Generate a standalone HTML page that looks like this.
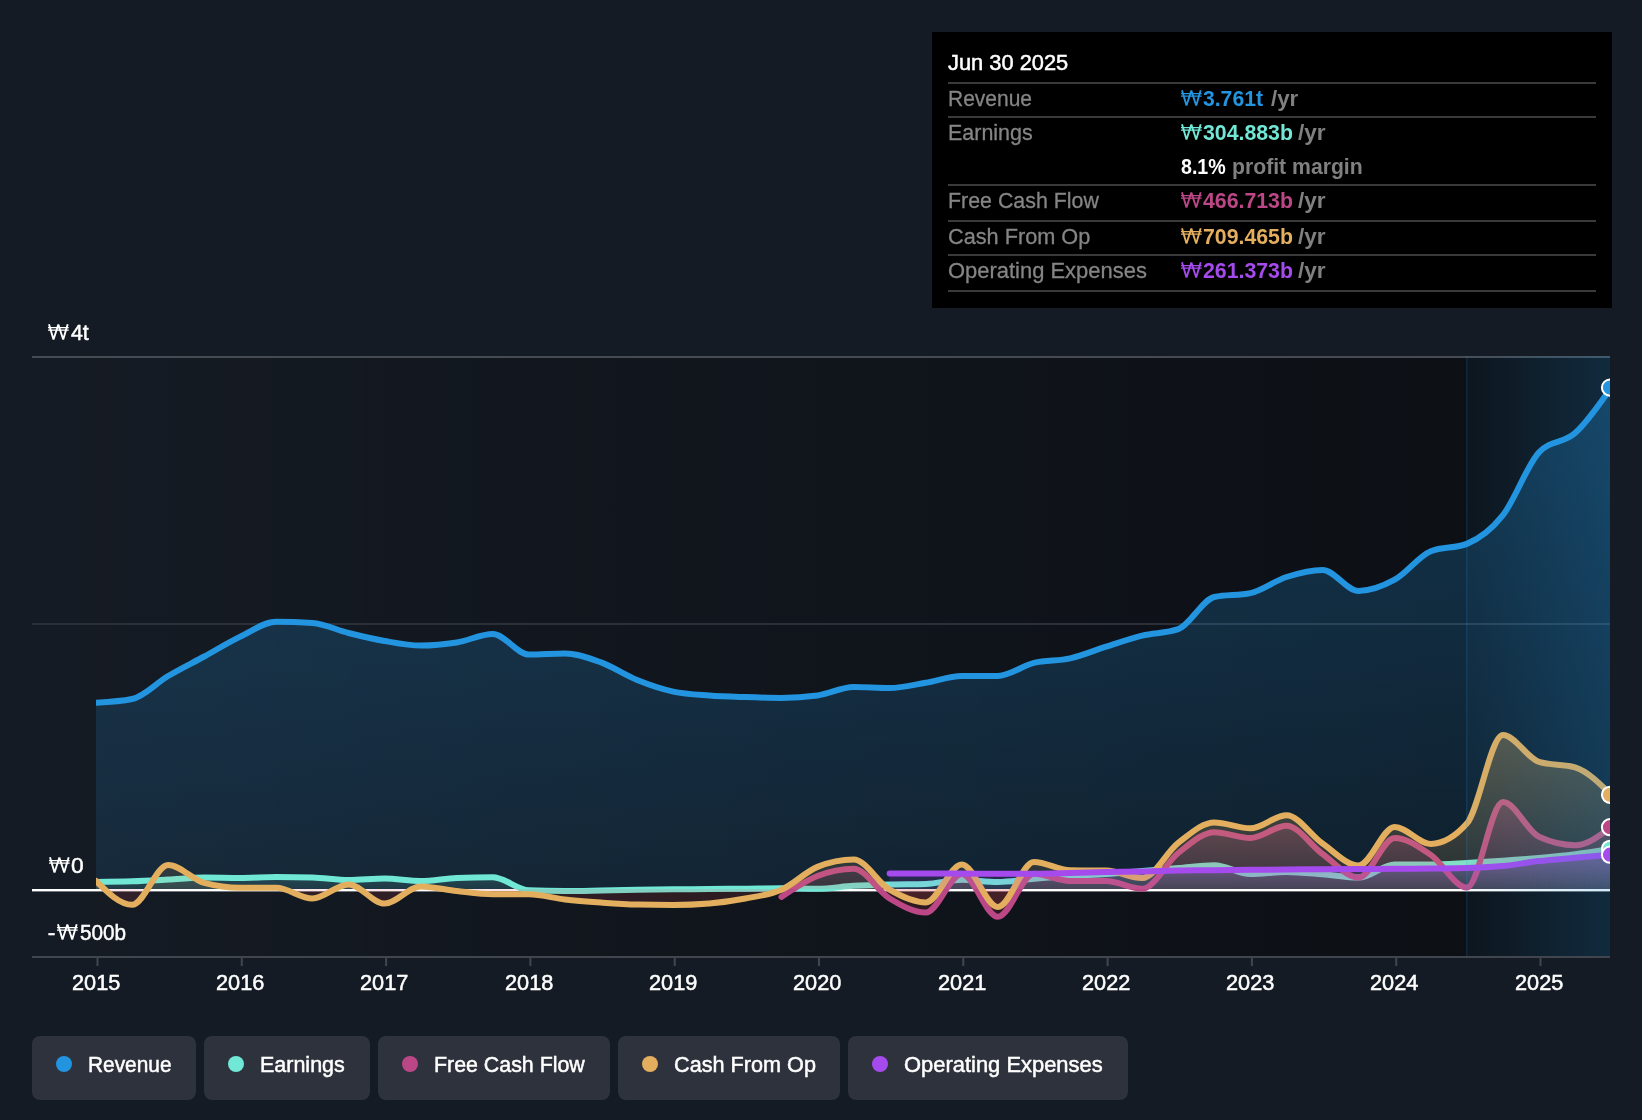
<!DOCTYPE html>
<html lang="en">
<head>
<meta charset="utf-8">
<title>Earnings and Revenue History</title>
<style>
*{box-sizing:border-box;margin:0;padding:0}
html,body{width:1642px;height:1120px;overflow:hidden;background:#151b24}
body{position:relative;font-family:"Liberation Sans",sans-serif;color:#fff}
#chart{position:absolute;left:0;top:0}
#tip{position:absolute;left:932px;top:32px;width:680px;height:276px;background:#000}
#tip .ln{position:absolute;left:16px;width:648px;height:2px;background:#3a3a3a}
.pill{position:absolute;top:1036px;height:64px;background:#2d323c;border-radius:8px}
.pill .dot{position:absolute;left:24px;top:20px;width:16px;height:16px;border-radius:50%}
#txt{position:absolute;left:0;top:0;width:1642px;height:1120px;will-change:transform}
#txt span{position:absolute;white-space:nowrap;line-height:1;font-size:22.8px;transform-origin:0 0}
#txt svg{position:absolute;overflow:visible}
.m{color:#fff;-webkit-text-stroke:0.5px}
.l{color:#858585;-webkit-text-stroke:0.3px}
.b{font-weight:bold}
.u{font-weight:bold;color:#808080}
</style>
</head>
<body>
<svg id="chart" width="1642" height="1120" viewBox="0 0 1642 1120">
<defs>
<linearGradient id="bgd" x1="32" y1="0" x2="1466" y2="0" gradientUnits="userSpaceOnUse">
<stop offset="0" stop-color="#000" stop-opacity="0"/>
<stop offset="1" stop-color="#000" stop-opacity="0.42"/>
</linearGradient>
<linearGradient id="hl" x1="1466" y1="0" x2="1610" y2="0" gradientUnits="userSpaceOnUse">
<stop offset="0" stop-color="#2394df" stop-opacity="0.04"/>
<stop offset="1" stop-color="#2394df" stop-opacity="0.2"/>
</linearGradient>
<clipPath id="cp"><rect x="96" y="340" width="1514" height="617"/></clipPath>
<clipPath id="up"><rect x="96" y="340" width="1514" height="549"/></clipPath>
<clipPath id="dn"><rect x="96" y="889" width="1514" height="68"/></clipPath>
<linearGradient id="grev" x1="0" y1="387" x2="0" y2="889" gradientUnits="userSpaceOnUse">
<stop offset="0" stop-color="#2394df" stop-opacity="0.28"/>
<stop offset="1" stop-color="#2394df" stop-opacity="0.12"/>
</linearGradient>
<linearGradient id="gearn" x1="0" y1="849" x2="0" y2="889" gradientUnits="userSpaceOnUse">
<stop offset="0" stop-color="#71e7d6" stop-opacity="0.3"/>
<stop offset="1" stop-color="#71e7d6" stop-opacity="0.1"/>
</linearGradient>
<linearGradient id="gfcf" x1="0" y1="802" x2="0" y2="889" gradientUnits="userSpaceOnUse">
<stop offset="0" stop-color="#bc4786" stop-opacity="0.34"/>
<stop offset="1" stop-color="#bc4786" stop-opacity="0.1"/>
</linearGradient>
<linearGradient id="gcfo" x1="0" y1="735" x2="0" y2="889" gradientUnits="userSpaceOnUse">
<stop offset="0" stop-color="#e3af5e" stop-opacity="0.34"/>
<stop offset="1" stop-color="#e3af5e" stop-opacity="0.1"/>
</linearGradient>
<linearGradient id="gopex" x1="0" y1="855" x2="0" y2="889" gradientUnits="userSpaceOnUse">
<stop offset="0" stop-color="#a54bee" stop-opacity="0.3"/>
<stop offset="1" stop-color="#a54bee" stop-opacity="0.08"/>
</linearGradient>
</defs>
<!-- plot background -->
<rect x="32" y="358" width="1578" height="598" fill="url(#bgd)"/>
<!-- gridlines -->
<rect x="32" y="356" width="1578" height="2" fill="#464b53"/>
<rect x="32" y="623" width="1578" height="2" fill="#2a2f38"/>
<g clip-path="url(#cp)">
<!-- revenue -->
<path d="M96.00,702.70C108.02,702.08,120.05,701.47,132.07,699.00C144.10,696.53,156.12,683.08,168.15,676.00C180.18,668.92,192.20,663.07,204.23,656.50C216.25,649.93,228.28,642.38,240.30,636.60C252.33,630.82,264.35,621.80,276.38,621.80C288.40,621.80,300.43,622.20,312.45,623.00C324.48,623.80,336.50,630.00,348.53,633.00C360.55,636.00,372.58,638.90,384.60,641.00C396.62,643.10,408.65,645.60,420.68,645.60C432.70,645.60,444.73,644.43,456.75,642.50C468.78,640.57,480.80,634.00,492.83,634.00C504.85,634.00,516.88,654.60,528.90,654.60C540.93,654.60,552.95,653.40,564.98,653.40C577.00,653.40,589.03,657.97,601.05,662.40C613.08,666.83,625.10,675.13,637.12,680.00C649.15,684.87,661.18,689.02,673.20,691.60C685.23,694.18,697.25,694.58,709.28,695.50C721.30,696.42,733.33,696.70,745.35,697.10C757.38,697.50,769.40,697.90,781.43,697.90C793.45,697.90,805.48,697.10,817.50,695.50C829.52,693.90,841.55,687.10,853.58,687.10C865.60,687.10,877.63,688.10,889.65,688.10C901.68,688.10,913.70,684.82,925.73,682.80C937.75,680.78,949.78,676.00,961.80,676.00C973.83,676.00,985.85,676.00,997.88,676.00C1009.90,676.00,1021.93,665.83,1033.95,662.90C1045.98,659.97,1058.00,661.10,1070.03,658.40C1082.05,655.70,1094.08,650.50,1106.10,646.70C1118.13,642.90,1130.15,638.52,1142.18,635.60C1154.20,632.68,1166.23,633.47,1178.25,629.20C1190.28,624.93,1202.30,599.60,1214.33,597.00C1226.35,594.40,1238.38,595.70,1250.40,593.10C1262.43,590.50,1274.45,580.87,1286.48,577.00C1298.50,573.13,1310.53,569.90,1322.55,569.90C1334.58,569.90,1346.60,590.90,1358.62,590.90C1370.65,590.90,1382.67,586.32,1394.70,579.70C1406.73,573.08,1418.75,556.07,1430.78,551.20C1442.80,546.33,1454.83,548.77,1466.85,543.90C1478.88,539.03,1490.90,530.45,1502.93,515.20C1514.95,499.95,1526.98,465.27,1539.00,452.40C1551.03,439.53,1563.05,443.90,1575.08,433.10C1587.10,422.30,1599.12,404.95,1611.15,387.60L1611.15,889.00L96.00,889.00Z" fill="url(#grev)"/>
<path d="M96.00,702.70C108.02,702.08,120.05,701.47,132.07,699.00C144.10,696.53,156.12,683.08,168.15,676.00C180.18,668.92,192.20,663.07,204.23,656.50C216.25,649.93,228.28,642.38,240.30,636.60C252.33,630.82,264.35,621.80,276.38,621.80C288.40,621.80,300.43,622.20,312.45,623.00C324.48,623.80,336.50,630.00,348.53,633.00C360.55,636.00,372.58,638.90,384.60,641.00C396.62,643.10,408.65,645.60,420.68,645.60C432.70,645.60,444.73,644.43,456.75,642.50C468.78,640.57,480.80,634.00,492.83,634.00C504.85,634.00,516.88,654.60,528.90,654.60C540.93,654.60,552.95,653.40,564.98,653.40C577.00,653.40,589.03,657.97,601.05,662.40C613.08,666.83,625.10,675.13,637.12,680.00C649.15,684.87,661.18,689.02,673.20,691.60C685.23,694.18,697.25,694.58,709.28,695.50C721.30,696.42,733.33,696.70,745.35,697.10C757.38,697.50,769.40,697.90,781.43,697.90C793.45,697.90,805.48,697.10,817.50,695.50C829.52,693.90,841.55,687.10,853.58,687.10C865.60,687.10,877.63,688.10,889.65,688.10C901.68,688.10,913.70,684.82,925.73,682.80C937.75,680.78,949.78,676.00,961.80,676.00C973.83,676.00,985.85,676.00,997.88,676.00C1009.90,676.00,1021.93,665.83,1033.95,662.90C1045.98,659.97,1058.00,661.10,1070.03,658.40C1082.05,655.70,1094.08,650.50,1106.10,646.70C1118.13,642.90,1130.15,638.52,1142.18,635.60C1154.20,632.68,1166.23,633.47,1178.25,629.20C1190.28,624.93,1202.30,599.60,1214.33,597.00C1226.35,594.40,1238.38,595.70,1250.40,593.10C1262.43,590.50,1274.45,580.87,1286.48,577.00C1298.50,573.13,1310.53,569.90,1322.55,569.90C1334.58,569.90,1346.60,590.90,1358.62,590.90C1370.65,590.90,1382.67,586.32,1394.70,579.70C1406.73,573.08,1418.75,556.07,1430.78,551.20C1442.80,546.33,1454.83,548.77,1466.85,543.90C1478.88,539.03,1490.90,530.45,1502.93,515.20C1514.95,499.95,1526.98,465.27,1539.00,452.40C1551.03,439.53,1563.05,443.90,1575.08,433.10C1587.10,422.30,1599.12,404.95,1611.15,387.60" fill="none" stroke="#2394df" stroke-width="6" stroke-linejoin="round" stroke-linecap="round"/>
<!-- zero line -->
<rect x="32" y="889" width="1578" height="2.4" fill="#fff"/>
<!-- earnings -->
<path d="M96.00,881.90C108.02,881.79,120.05,881.68,132.07,881.30C144.10,880.92,156.12,880.22,168.15,879.60C180.18,878.98,192.20,877.60,204.23,877.60C216.25,877.60,228.28,878.00,240.30,878.00C252.33,878.00,264.35,877.00,276.38,877.00C288.40,877.00,300.43,877.13,312.45,877.40C324.48,877.67,336.50,880.00,348.53,880.00C360.55,880.00,372.58,878.60,384.60,878.60C396.62,878.60,408.65,881.00,420.68,881.00C432.70,881.00,444.73,878.47,456.75,878.00C468.78,877.53,480.80,877.30,492.83,877.30C504.85,877.30,516.88,889.83,528.90,890.30C540.93,890.77,552.95,891.00,564.98,891.00C577.00,891.00,589.03,890.70,601.05,890.50C613.08,890.30,625.10,890.00,637.12,889.80C649.15,889.60,661.18,889.43,673.20,889.30C685.23,889.17,697.25,889.10,709.28,889.00C721.30,888.90,733.33,888.82,745.35,888.70C757.38,888.58,769.40,888.30,781.43,888.30C793.45,888.30,805.48,888.70,817.50,888.70C829.52,888.70,841.55,886.50,853.58,885.80C865.60,885.10,877.63,884.80,889.65,884.50C901.68,884.20,913.70,884.33,925.73,884.00C937.75,883.67,949.78,879.80,961.80,879.80C973.83,879.80,985.85,882.00,997.88,882.00C1009.90,882.00,1021.93,879.80,1033.95,878.80C1045.98,877.80,1058.00,876.80,1070.03,876.00C1082.05,875.20,1094.08,874.83,1106.10,874.00C1118.13,873.17,1130.15,872.00,1142.18,871.00C1154.20,870.00,1166.23,868.97,1178.25,868.00C1190.28,867.03,1202.30,865.20,1214.33,865.20C1226.35,865.20,1238.38,874.00,1250.40,874.00C1262.43,874.00,1274.45,872.00,1286.48,872.00C1298.50,872.00,1310.53,873.37,1322.55,874.30C1334.58,875.23,1346.60,877.60,1358.62,877.60C1370.65,877.60,1382.67,864.40,1394.70,864.40C1406.73,864.40,1418.75,864.40,1430.78,864.40C1442.80,864.40,1454.83,863.50,1466.85,862.90C1478.88,862.30,1490.90,861.62,1502.93,860.80C1514.95,859.98,1526.98,859.10,1539.00,858.00C1551.03,856.90,1563.05,855.73,1575.08,854.20C1587.10,852.67,1599.12,850.73,1611.15,848.80L1611.15,889.00L96.00,889.00Z" fill="url(#gearn)" clip-path="url(#up)"/>
<path d="M96.00,881.90C108.02,881.79,120.05,881.68,132.07,881.30C144.10,880.92,156.12,880.22,168.15,879.60C180.18,878.98,192.20,877.60,204.23,877.60C216.25,877.60,228.28,878.00,240.30,878.00C252.33,878.00,264.35,877.00,276.38,877.00C288.40,877.00,300.43,877.13,312.45,877.40C324.48,877.67,336.50,880.00,348.53,880.00C360.55,880.00,372.58,878.60,384.60,878.60C396.62,878.60,408.65,881.00,420.68,881.00C432.70,881.00,444.73,878.47,456.75,878.00C468.78,877.53,480.80,877.30,492.83,877.30C504.85,877.30,516.88,889.83,528.90,890.30C540.93,890.77,552.95,891.00,564.98,891.00C577.00,891.00,589.03,890.70,601.05,890.50C613.08,890.30,625.10,890.00,637.12,889.80C649.15,889.60,661.18,889.43,673.20,889.30C685.23,889.17,697.25,889.10,709.28,889.00C721.30,888.90,733.33,888.82,745.35,888.70C757.38,888.58,769.40,888.30,781.43,888.30C793.45,888.30,805.48,888.70,817.50,888.70C829.52,888.70,841.55,886.50,853.58,885.80C865.60,885.10,877.63,884.80,889.65,884.50C901.68,884.20,913.70,884.33,925.73,884.00C937.75,883.67,949.78,879.80,961.80,879.80C973.83,879.80,985.85,882.00,997.88,882.00C1009.90,882.00,1021.93,879.80,1033.95,878.80C1045.98,877.80,1058.00,876.80,1070.03,876.00C1082.05,875.20,1094.08,874.83,1106.10,874.00C1118.13,873.17,1130.15,872.00,1142.18,871.00C1154.20,870.00,1166.23,868.97,1178.25,868.00C1190.28,867.03,1202.30,865.20,1214.33,865.20C1226.35,865.20,1238.38,874.00,1250.40,874.00C1262.43,874.00,1274.45,872.00,1286.48,872.00C1298.50,872.00,1310.53,873.37,1322.55,874.30C1334.58,875.23,1346.60,877.60,1358.62,877.60C1370.65,877.60,1382.67,864.40,1394.70,864.40C1406.73,864.40,1418.75,864.40,1430.78,864.40C1442.80,864.40,1454.83,863.50,1466.85,862.90C1478.88,862.30,1490.90,861.62,1502.93,860.80C1514.95,859.98,1526.98,859.10,1539.00,858.00C1551.03,856.90,1563.05,855.73,1575.08,854.20C1587.10,852.67,1599.12,850.73,1611.15,848.80L1611.15,889.00L96.00,889.00Z" fill="#e5484d" fill-opacity="0.14" clip-path="url(#dn)"/>
<path d="M96.00,881.90C108.02,881.79,120.05,881.68,132.07,881.30C144.10,880.92,156.12,880.22,168.15,879.60C180.18,878.98,192.20,877.60,204.23,877.60C216.25,877.60,228.28,878.00,240.30,878.00C252.33,878.00,264.35,877.00,276.38,877.00C288.40,877.00,300.43,877.13,312.45,877.40C324.48,877.67,336.50,880.00,348.53,880.00C360.55,880.00,372.58,878.60,384.60,878.60C396.62,878.60,408.65,881.00,420.68,881.00C432.70,881.00,444.73,878.47,456.75,878.00C468.78,877.53,480.80,877.30,492.83,877.30C504.85,877.30,516.88,889.83,528.90,890.30C540.93,890.77,552.95,891.00,564.98,891.00C577.00,891.00,589.03,890.70,601.05,890.50C613.08,890.30,625.10,890.00,637.12,889.80C649.15,889.60,661.18,889.43,673.20,889.30C685.23,889.17,697.25,889.10,709.28,889.00C721.30,888.90,733.33,888.82,745.35,888.70C757.38,888.58,769.40,888.30,781.43,888.30C793.45,888.30,805.48,888.70,817.50,888.70C829.52,888.70,841.55,886.50,853.58,885.80C865.60,885.10,877.63,884.80,889.65,884.50C901.68,884.20,913.70,884.33,925.73,884.00C937.75,883.67,949.78,879.80,961.80,879.80C973.83,879.80,985.85,882.00,997.88,882.00C1009.90,882.00,1021.93,879.80,1033.95,878.80C1045.98,877.80,1058.00,876.80,1070.03,876.00C1082.05,875.20,1094.08,874.83,1106.10,874.00C1118.13,873.17,1130.15,872.00,1142.18,871.00C1154.20,870.00,1166.23,868.97,1178.25,868.00C1190.28,867.03,1202.30,865.20,1214.33,865.20C1226.35,865.20,1238.38,874.00,1250.40,874.00C1262.43,874.00,1274.45,872.00,1286.48,872.00C1298.50,872.00,1310.53,873.37,1322.55,874.30C1334.58,875.23,1346.60,877.60,1358.62,877.60C1370.65,877.60,1382.67,864.40,1394.70,864.40C1406.73,864.40,1418.75,864.40,1430.78,864.40C1442.80,864.40,1454.83,863.50,1466.85,862.90C1478.88,862.30,1490.90,861.62,1502.93,860.80C1514.95,859.98,1526.98,859.10,1539.00,858.00C1551.03,856.90,1563.05,855.73,1575.08,854.20C1587.10,852.67,1599.12,850.73,1611.15,848.80" fill="none" stroke="#71e7d6" stroke-width="6" stroke-linejoin="round" stroke-linecap="round"/>
<!-- fcf -->
<path d="M781.43,896.90C793.45,888.80,805.48,880.70,817.50,876.00C829.52,871.30,841.55,868.70,853.58,868.70C865.60,868.70,877.63,891.20,889.65,898.50C901.68,905.80,913.70,912.50,925.73,912.50C937.75,912.50,949.78,874.10,961.80,874.10C973.83,874.10,985.85,916.80,997.88,916.80C1009.90,916.80,1021.93,873.70,1033.95,873.70C1045.98,873.70,1058.00,880.90,1070.03,880.90C1082.05,880.90,1094.08,880.90,1106.10,880.90C1118.13,880.90,1130.15,888.70,1142.18,888.70C1154.20,888.70,1166.23,862.42,1178.25,853.00C1190.28,843.58,1202.30,832.20,1214.33,832.20C1226.35,832.20,1238.38,838.00,1250.40,838.00C1262.43,838.00,1274.45,825.70,1286.48,825.70C1298.50,825.70,1310.53,845.35,1322.55,854.00C1334.58,862.65,1346.60,877.60,1358.62,877.60C1370.65,877.60,1382.67,837.90,1394.70,837.90C1406.73,837.90,1418.75,846.63,1430.78,854.90C1442.80,863.17,1454.83,887.50,1466.85,887.50C1478.88,887.50,1490.90,802.00,1502.93,802.00C1514.95,802.00,1526.98,831.20,1539.00,836.80C1551.03,842.40,1563.05,845.20,1575.08,845.20C1587.10,845.20,1599.12,836.20,1611.15,827.20L1611.15,889.00L781.43,889.00Z" fill="url(#gfcf)" clip-path="url(#up)"/>
<path d="M781.43,896.90C793.45,888.80,805.48,880.70,817.50,876.00C829.52,871.30,841.55,868.70,853.58,868.70C865.60,868.70,877.63,891.20,889.65,898.50C901.68,905.80,913.70,912.50,925.73,912.50C937.75,912.50,949.78,874.10,961.80,874.10C973.83,874.10,985.85,916.80,997.88,916.80C1009.90,916.80,1021.93,873.70,1033.95,873.70C1045.98,873.70,1058.00,880.90,1070.03,880.90C1082.05,880.90,1094.08,880.90,1106.10,880.90C1118.13,880.90,1130.15,888.70,1142.18,888.70C1154.20,888.70,1166.23,862.42,1178.25,853.00C1190.28,843.58,1202.30,832.20,1214.33,832.20C1226.35,832.20,1238.38,838.00,1250.40,838.00C1262.43,838.00,1274.45,825.70,1286.48,825.70C1298.50,825.70,1310.53,845.35,1322.55,854.00C1334.58,862.65,1346.60,877.60,1358.62,877.60C1370.65,877.60,1382.67,837.90,1394.70,837.90C1406.73,837.90,1418.75,846.63,1430.78,854.90C1442.80,863.17,1454.83,887.50,1466.85,887.50C1478.88,887.50,1490.90,802.00,1502.93,802.00C1514.95,802.00,1526.98,831.20,1539.00,836.80C1551.03,842.40,1563.05,845.20,1575.08,845.20C1587.10,845.20,1599.12,836.20,1611.15,827.20L1611.15,889.00L781.43,889.00Z" fill="#e5484d" fill-opacity="0.14" clip-path="url(#dn)"/>
<path d="M781.43,896.90C793.45,888.80,805.48,880.70,817.50,876.00C829.52,871.30,841.55,868.70,853.58,868.70C865.60,868.70,877.63,891.20,889.65,898.50C901.68,905.80,913.70,912.50,925.73,912.50C937.75,912.50,949.78,874.10,961.80,874.10C973.83,874.10,985.85,916.80,997.88,916.80C1009.90,916.80,1021.93,873.70,1033.95,873.70C1045.98,873.70,1058.00,880.90,1070.03,880.90C1082.05,880.90,1094.08,880.90,1106.10,880.90C1118.13,880.90,1130.15,888.70,1142.18,888.70C1154.20,888.70,1166.23,862.42,1178.25,853.00C1190.28,843.58,1202.30,832.20,1214.33,832.20C1226.35,832.20,1238.38,838.00,1250.40,838.00C1262.43,838.00,1274.45,825.70,1286.48,825.70C1298.50,825.70,1310.53,845.35,1322.55,854.00C1334.58,862.65,1346.60,877.60,1358.62,877.60C1370.65,877.60,1382.67,837.90,1394.70,837.90C1406.73,837.90,1418.75,846.63,1430.78,854.90C1442.80,863.17,1454.83,887.50,1466.85,887.50C1478.88,887.50,1490.90,802.00,1502.93,802.00C1514.95,802.00,1526.98,831.20,1539.00,836.80C1551.03,842.40,1563.05,845.20,1575.08,845.20C1587.10,845.20,1599.12,836.20,1611.15,827.20" fill="none" stroke="#bc4786" stroke-width="6" stroke-linejoin="round" stroke-linecap="round"/>
<!-- cfo -->
<path d="M96.00,881.00C108.02,892.90,120.05,904.80,132.07,904.80C144.10,904.80,156.12,865.00,168.15,865.00C180.18,865.00,192.20,879.63,204.23,882.90C216.25,886.17,228.28,887.80,240.30,887.80C252.33,887.80,264.35,887.80,276.38,887.80C288.40,887.80,300.43,898.50,312.45,898.50C324.48,898.50,336.50,884.40,348.53,884.40C360.55,884.40,372.58,903.60,384.60,903.60C396.62,903.60,408.65,886.40,420.68,886.40C432.70,886.40,444.73,889.70,456.75,891.00C468.78,892.30,480.80,894.20,492.83,894.20C504.85,894.20,516.88,894.20,528.90,894.20C540.93,894.20,552.95,898.10,564.98,899.50C577.00,900.90,589.03,901.75,601.05,902.60C613.08,903.45,625.10,904.33,637.12,904.60C649.15,904.87,661.18,905.00,673.20,905.00C685.23,905.00,697.25,904.50,709.28,903.50C721.30,902.50,733.33,900.80,745.35,898.50C757.38,896.20,769.40,894.97,781.43,889.70C793.45,884.43,805.48,871.83,817.50,866.90C829.52,861.97,841.55,859.50,853.58,859.50C865.60,859.50,877.63,882.55,889.65,889.70C901.68,896.85,913.70,902.40,925.73,902.40C937.75,902.40,949.78,864.40,961.80,864.40C973.83,864.40,985.85,907.00,997.88,907.00C1009.90,907.00,1021.93,862.00,1033.95,862.00C1045.98,862.00,1058.00,869.93,1070.03,870.20C1082.05,870.47,1094.08,870.33,1106.10,870.60C1118.13,870.87,1130.15,878.00,1142.18,878.00C1154.20,878.00,1166.23,852.17,1178.25,842.90C1190.28,833.63,1202.30,822.40,1214.33,822.40C1226.35,822.40,1238.38,828.30,1250.40,828.30C1262.43,828.30,1274.45,815.30,1286.48,815.30C1298.50,815.30,1310.53,835.13,1322.55,843.50C1334.58,851.87,1346.60,865.50,1358.62,865.50C1370.65,865.50,1382.67,826.90,1394.70,826.90C1406.73,826.90,1418.75,843.90,1430.78,843.90C1442.80,843.90,1454.83,837.13,1466.85,823.60C1478.88,810.07,1490.90,735.00,1502.93,735.00C1514.95,735.00,1526.98,758.23,1539.00,761.90C1551.03,765.57,1563.05,763.73,1575.08,767.40C1587.10,771.07,1599.12,782.93,1611.15,794.80L1611.15,889.00L96.00,889.00Z" fill="url(#gcfo)" clip-path="url(#up)"/>
<path d="M96.00,881.00C108.02,892.90,120.05,904.80,132.07,904.80C144.10,904.80,156.12,865.00,168.15,865.00C180.18,865.00,192.20,879.63,204.23,882.90C216.25,886.17,228.28,887.80,240.30,887.80C252.33,887.80,264.35,887.80,276.38,887.80C288.40,887.80,300.43,898.50,312.45,898.50C324.48,898.50,336.50,884.40,348.53,884.40C360.55,884.40,372.58,903.60,384.60,903.60C396.62,903.60,408.65,886.40,420.68,886.40C432.70,886.40,444.73,889.70,456.75,891.00C468.78,892.30,480.80,894.20,492.83,894.20C504.85,894.20,516.88,894.20,528.90,894.20C540.93,894.20,552.95,898.10,564.98,899.50C577.00,900.90,589.03,901.75,601.05,902.60C613.08,903.45,625.10,904.33,637.12,904.60C649.15,904.87,661.18,905.00,673.20,905.00C685.23,905.00,697.25,904.50,709.28,903.50C721.30,902.50,733.33,900.80,745.35,898.50C757.38,896.20,769.40,894.97,781.43,889.70C793.45,884.43,805.48,871.83,817.50,866.90C829.52,861.97,841.55,859.50,853.58,859.50C865.60,859.50,877.63,882.55,889.65,889.70C901.68,896.85,913.70,902.40,925.73,902.40C937.75,902.40,949.78,864.40,961.80,864.40C973.83,864.40,985.85,907.00,997.88,907.00C1009.90,907.00,1021.93,862.00,1033.95,862.00C1045.98,862.00,1058.00,869.93,1070.03,870.20C1082.05,870.47,1094.08,870.33,1106.10,870.60C1118.13,870.87,1130.15,878.00,1142.18,878.00C1154.20,878.00,1166.23,852.17,1178.25,842.90C1190.28,833.63,1202.30,822.40,1214.33,822.40C1226.35,822.40,1238.38,828.30,1250.40,828.30C1262.43,828.30,1274.45,815.30,1286.48,815.30C1298.50,815.30,1310.53,835.13,1322.55,843.50C1334.58,851.87,1346.60,865.50,1358.62,865.50C1370.65,865.50,1382.67,826.90,1394.70,826.90C1406.73,826.90,1418.75,843.90,1430.78,843.90C1442.80,843.90,1454.83,837.13,1466.85,823.60C1478.88,810.07,1490.90,735.00,1502.93,735.00C1514.95,735.00,1526.98,758.23,1539.00,761.90C1551.03,765.57,1563.05,763.73,1575.08,767.40C1587.10,771.07,1599.12,782.93,1611.15,794.80L1611.15,889.00L96.00,889.00Z" fill="#e5484d" fill-opacity="0.14" clip-path="url(#dn)"/>
<path d="M96.00,881.00C108.02,892.90,120.05,904.80,132.07,904.80C144.10,904.80,156.12,865.00,168.15,865.00C180.18,865.00,192.20,879.63,204.23,882.90C216.25,886.17,228.28,887.80,240.30,887.80C252.33,887.80,264.35,887.80,276.38,887.80C288.40,887.80,300.43,898.50,312.45,898.50C324.48,898.50,336.50,884.40,348.53,884.40C360.55,884.40,372.58,903.60,384.60,903.60C396.62,903.60,408.65,886.40,420.68,886.40C432.70,886.40,444.73,889.70,456.75,891.00C468.78,892.30,480.80,894.20,492.83,894.20C504.85,894.20,516.88,894.20,528.90,894.20C540.93,894.20,552.95,898.10,564.98,899.50C577.00,900.90,589.03,901.75,601.05,902.60C613.08,903.45,625.10,904.33,637.12,904.60C649.15,904.87,661.18,905.00,673.20,905.00C685.23,905.00,697.25,904.50,709.28,903.50C721.30,902.50,733.33,900.80,745.35,898.50C757.38,896.20,769.40,894.97,781.43,889.70C793.45,884.43,805.48,871.83,817.50,866.90C829.52,861.97,841.55,859.50,853.58,859.50C865.60,859.50,877.63,882.55,889.65,889.70C901.68,896.85,913.70,902.40,925.73,902.40C937.75,902.40,949.78,864.40,961.80,864.40C973.83,864.40,985.85,907.00,997.88,907.00C1009.90,907.00,1021.93,862.00,1033.95,862.00C1045.98,862.00,1058.00,869.93,1070.03,870.20C1082.05,870.47,1094.08,870.33,1106.10,870.60C1118.13,870.87,1130.15,878.00,1142.18,878.00C1154.20,878.00,1166.23,852.17,1178.25,842.90C1190.28,833.63,1202.30,822.40,1214.33,822.40C1226.35,822.40,1238.38,828.30,1250.40,828.30C1262.43,828.30,1274.45,815.30,1286.48,815.30C1298.50,815.30,1310.53,835.13,1322.55,843.50C1334.58,851.87,1346.60,865.50,1358.62,865.50C1370.65,865.50,1382.67,826.90,1394.70,826.90C1406.73,826.90,1418.75,843.90,1430.78,843.90C1442.80,843.90,1454.83,837.13,1466.85,823.60C1478.88,810.07,1490.90,735.00,1502.93,735.00C1514.95,735.00,1526.98,758.23,1539.00,761.90C1551.03,765.57,1563.05,763.73,1575.08,767.40C1587.10,771.07,1599.12,782.93,1611.15,794.80" fill="none" stroke="#e3af5e" stroke-width="6" stroke-linejoin="round" stroke-linecap="round"/>
<!-- opex -->
<path d="M889.65,873.50C901.68,873.45,913.70,873.40,925.73,873.40C937.75,873.40,949.78,873.55,961.80,873.60C973.83,873.65,985.85,873.70,997.88,873.70C1009.90,873.70,1021.93,873.70,1033.95,873.70C1045.98,873.70,1058.00,873.27,1070.03,873.00C1082.05,872.73,1094.08,872.37,1106.10,872.10C1118.13,871.83,1130.15,871.65,1142.18,871.40C1154.20,871.15,1166.23,870.80,1178.25,870.60C1190.28,870.40,1202.30,870.33,1214.33,870.20C1226.35,870.07,1238.38,869.92,1250.40,869.80C1262.43,869.68,1274.45,869.60,1286.48,869.50C1298.50,869.40,1310.53,869.28,1322.55,869.20C1334.58,869.12,1346.60,869.07,1358.62,869.00C1370.65,868.93,1382.67,868.88,1394.70,868.80C1406.73,868.72,1418.75,868.62,1430.78,868.50C1442.80,868.38,1454.83,868.37,1466.85,868.10C1478.88,867.83,1490.90,867.17,1502.93,866.00C1514.95,864.83,1526.98,862.47,1539.00,861.10C1551.03,859.73,1563.05,858.87,1575.08,857.80C1587.10,856.73,1599.12,855.72,1611.15,854.70L1611.15,889.00L889.65,889.00Z" fill="url(#gopex)" clip-path="url(#up)"/>
<path d="M889.65,873.50C901.68,873.45,913.70,873.40,925.73,873.40C937.75,873.40,949.78,873.55,961.80,873.60C973.83,873.65,985.85,873.70,997.88,873.70C1009.90,873.70,1021.93,873.70,1033.95,873.70C1045.98,873.70,1058.00,873.27,1070.03,873.00C1082.05,872.73,1094.08,872.37,1106.10,872.10C1118.13,871.83,1130.15,871.65,1142.18,871.40C1154.20,871.15,1166.23,870.80,1178.25,870.60C1190.28,870.40,1202.30,870.33,1214.33,870.20C1226.35,870.07,1238.38,869.92,1250.40,869.80C1262.43,869.68,1274.45,869.60,1286.48,869.50C1298.50,869.40,1310.53,869.28,1322.55,869.20C1334.58,869.12,1346.60,869.07,1358.62,869.00C1370.65,868.93,1382.67,868.88,1394.70,868.80C1406.73,868.72,1418.75,868.62,1430.78,868.50C1442.80,868.38,1454.83,868.37,1466.85,868.10C1478.88,867.83,1490.90,867.17,1502.93,866.00C1514.95,864.83,1526.98,862.47,1539.00,861.10C1551.03,859.73,1563.05,858.87,1575.08,857.80C1587.10,856.73,1599.12,855.72,1611.15,854.70" fill="none" stroke="#a54bee" stroke-width="6" stroke-linejoin="round" stroke-linecap="round"/>
<!-- highlight -->
<rect x="1466" y="356" width="144" height="600" fill="url(#hl)"/>
<rect x="1466" y="356" width="1.5" height="600" fill="#2394df" fill-opacity="0.16"/>
<!-- end markers -->
<circle cx="1610" cy="387.6" r="8.1" fill="#2394df" stroke="#fff" stroke-width="2"/>
<circle cx="1610" cy="794.8" r="8.1" fill="#e3af5e" stroke="#fff" stroke-width="2"/>
<circle cx="1610" cy="827.2" r="8.1" fill="#bc4786" stroke="#fff" stroke-width="2"/>
<circle cx="1610" cy="848.8" r="8.1" fill="#71e7d6" stroke="#fff" stroke-width="2"/>
<circle cx="1610" cy="854.7" r="8.1" fill="#a54bee" stroke="#fff" stroke-width="2"/>
</g>
<rect x="32" y="889" width="64" height="2.4" fill="#fff"/>
<!-- x axis -->
<rect x="32" y="956" width="1578" height="2" fill="#41464e"/>
<g fill="#41464e">
<rect x="96.5" y="956" width="2" height="10"/>
<rect x="240.8" y="956" width="2" height="10"/>
<rect x="385.1" y="956" width="2" height="10"/>
<rect x="529.4" y="956" width="2" height="10"/>
<rect x="673.7" y="956" width="2" height="10"/>
<rect x="818.0" y="956" width="2" height="10"/>
<rect x="962.3" y="956" width="2" height="10"/>
<rect x="1106.6" y="956" width="2" height="10"/>
<rect x="1250.9" y="956" width="2" height="10"/>
<rect x="1395.2" y="956" width="2" height="10"/>
<rect x="1539.5" y="956" width="2" height="10"/>
</g>
</svg>

<div id="tip">
<div class="ln" style="top:50px"></div>
<div class="ln" style="top:84px"></div>
<div class="ln" style="top:152px"></div>
<div class="ln" style="top:188px"></div>
<div class="ln" style="top:222px"></div>
<div class="ln" style="top:258px"></div>
</div>
<div class="pill" style="left:32px;width:164px"><span class="dot" style="background:#2394df"></span></div>
<div class="pill" style="left:204px;width:166px"><span class="dot" style="background:#71e7d6"></span></div>
<div class="pill" style="left:378px;width:232px"><span class="dot" style="background:#bc4786"></span></div>
<div class="pill" style="left:618px;width:222px"><span class="dot" style="background:#e3af5e"></span></div>
<div class="pill" style="left:848px;width:280px"><span class="dot" style="background:#a54bee"></span></div>
<div id="txt">
<span class="m" style="left:948.34px;top:51.00px;transform:scaleX(0.9584)">Jun 30 2025</span>
<span class="l" style="left:947.92px;top:87.00px;transform:scaleX(0.9202)">Revenue</span>
<span class="l" style="left:947.90px;top:121.00px;transform:scaleX(0.9418)">Earnings</span>
<span class="l" style="left:947.90px;top:189.00px;transform:scaleX(0.9376)">Free Cash Flow</span>
<span class="l" style="left:947.89px;top:225.00px;transform:scaleX(0.9520)">Cash From Op</span>
<span class="l" style="left:947.88px;top:259.00px;transform:scaleX(0.9627)">Operating Expenses</span>
<span class="b" style="left:1202.80px;top:87.00px;transform:scaleX(0.9270);color:#2394df">3.761t</span>
<span class="u" style="left:1270.50px;top:87.00px;transform:scaleX(0.9781)">/yr</span>
<span class="b" style="left:1202.80px;top:121.00px;transform:scaleX(0.9339);color:#71e7d6">304.883b</span>
<span class="u" style="left:1297.90px;top:121.00px;transform:scaleX(0.9924)">/yr</span>
<span class="b" style="left:1180.70px;top:155.00px;transform:scaleX(0.8609);color:#fff">8.1%</span>
<span class="u" style="left:1231.77px;top:155.00px;transform:scaleX(0.9297)">profit margin</span>
<span class="b" style="left:1202.80px;top:189.00px;transform:scaleX(0.9339);color:#bc4786">466.713b</span>
<span class="u" style="left:1297.90px;top:189.00px;transform:scaleX(0.9924)">/yr</span>
<span class="b" style="left:1202.80px;top:225.00px;transform:scaleX(0.9339);color:#e3af5e">709.465b</span>
<span class="u" style="left:1297.90px;top:225.00px;transform:scaleX(0.9924)">/yr</span>
<span class="b" style="left:1202.80px;top:259.00px;transform:scaleX(0.9339);color:#a54bee">261.373b</span>
<span class="u" style="left:1297.90px;top:259.00px;transform:scaleX(0.9924)">/yr</span>
<span class="m" style="left:88.21px;top:1053.00px;transform:scaleX(0.9148)">Revenue</span>
<span class="m" style="left:259.99px;top:1053.00px;transform:scaleX(0.9419)">Earnings</span>
<span class="m" style="left:434.20px;top:1053.00px;transform:scaleX(0.9371)">Free Cash Flow</span>
<span class="m" style="left:673.89px;top:1053.00px;transform:scaleX(0.9494)">Cash From Op</span>
<span class="m" style="left:904.08px;top:1053.00px;transform:scaleX(0.9618)">Operating Expenses</span>
<span class="m" style="left:71.79px;top:971.00px;transform:scaleX(0.9528)">2015</span>
<span class="m" style="left:216.09px;top:971.00px;transform:scaleX(0.9528)">2016</span>
<span class="m" style="left:360.39px;top:971.00px;transform:scaleX(0.9528)">2017</span>
<span class="m" style="left:504.69px;top:971.00px;transform:scaleX(0.9528)">2018</span>
<span class="m" style="left:648.99px;top:971.00px;transform:scaleX(0.9528)">2019</span>
<span class="m" style="left:793.29px;top:971.00px;transform:scaleX(0.9528)">2020</span>
<span class="m" style="left:937.59px;top:971.00px;transform:scaleX(0.9528)">2021</span>
<span class="m" style="left:1081.89px;top:971.00px;transform:scaleX(0.9528)">2022</span>
<span class="m" style="left:1226.19px;top:971.00px;transform:scaleX(0.9528)">2023</span>
<span class="m" style="left:1370.49px;top:971.00px;transform:scaleX(0.9528)">2024</span>
<span class="m" style="left:1514.79px;top:971.00px;transform:scaleX(0.9528)">2025</span>
<span class="m" style="left:70.98px;top:321.00px;transform:scaleX(0.9342)">4t</span>
<span class="m" style="left:71.05px;top:854.00px">0</span>
<span class="m" style="left:47.75px;top:921.00px">-</span>
<span class="m" style="left:79.93px;top:921.00px;transform:scaleX(0.9102)">500b</span>
<svg style="left:1180.70px;top:90.25px;color:#2394df" width="20.7" height="16" viewBox="0 0 20.7 16"><path d="M1,0.2L5.5,15.5L10.35,0.6L15.2,15.5L19.7,0.2" fill="none" stroke="currentColor" stroke-width="1.9" stroke-linejoin="miter" stroke-miterlimit="3"/><path d="M0,3.6H20.7M0,6.1H20.7" fill="none" stroke="currentColor" stroke-width="1.1"/></svg>
<svg style="left:1180.70px;top:124.25px;color:#71e7d6" width="20.7" height="16" viewBox="0 0 20.7 16"><path d="M1,0.2L5.5,15.5L10.35,0.6L15.2,15.5L19.7,0.2" fill="none" stroke="currentColor" stroke-width="1.9" stroke-linejoin="miter" stroke-miterlimit="3"/><path d="M0,3.6H20.7M0,6.1H20.7" fill="none" stroke="currentColor" stroke-width="1.1"/></svg>
<svg style="left:1180.70px;top:192.25px;color:#bc4786" width="20.7" height="16" viewBox="0 0 20.7 16"><path d="M1,0.2L5.5,15.5L10.35,0.6L15.2,15.5L19.7,0.2" fill="none" stroke="currentColor" stroke-width="1.9" stroke-linejoin="miter" stroke-miterlimit="3"/><path d="M0,3.6H20.7M0,6.1H20.7" fill="none" stroke="currentColor" stroke-width="1.1"/></svg>
<svg style="left:1180.70px;top:228.25px;color:#e3af5e" width="20.7" height="16" viewBox="0 0 20.7 16"><path d="M1,0.2L5.5,15.5L10.35,0.6L15.2,15.5L19.7,0.2" fill="none" stroke="currentColor" stroke-width="1.9" stroke-linejoin="miter" stroke-miterlimit="3"/><path d="M0,3.6H20.7M0,6.1H20.7" fill="none" stroke="currentColor" stroke-width="1.1"/></svg>
<svg style="left:1180.70px;top:262.25px;color:#a54bee" width="20.7" height="16" viewBox="0 0 20.7 16"><path d="M1,0.2L5.5,15.5L10.35,0.6L15.2,15.5L19.7,0.2" fill="none" stroke="currentColor" stroke-width="1.9" stroke-linejoin="miter" stroke-miterlimit="3"/><path d="M0,3.6H20.7M0,6.1H20.7" fill="none" stroke="currentColor" stroke-width="1.1"/></svg>
<svg style="left:48.30px;top:324.25px;color:#fff" width="20.7" height="16" viewBox="0 0 20.7 16"><path d="M1,0.2L5.5,15.5L10.35,0.6L15.2,15.5L19.7,0.2" fill="none" stroke="currentColor" stroke-width="1.9" stroke-linejoin="miter" stroke-miterlimit="3"/><path d="M0,3.6H20.7M0,6.1H20.7" fill="none" stroke="currentColor" stroke-width="1.1"/></svg>
<svg style="left:48.50px;top:856.95px;color:#fff" width="20.7" height="16" viewBox="0 0 20.7 16"><path d="M1,0.2L5.5,15.5L10.35,0.6L15.2,15.5L19.7,0.2" fill="none" stroke="currentColor" stroke-width="1.9" stroke-linejoin="miter" stroke-miterlimit="3"/><path d="M0,3.6H20.7M0,6.1H20.7" fill="none" stroke="currentColor" stroke-width="1.1"/></svg>
<svg style="left:57.00px;top:923.85px;color:#fff" width="20.7" height="16" viewBox="0 0 20.7 16"><path d="M1,0.2L5.5,15.5L10.35,0.6L15.2,15.5L19.7,0.2" fill="none" stroke="currentColor" stroke-width="1.9" stroke-linejoin="miter" stroke-miterlimit="3"/><path d="M0,3.6H20.7M0,6.1H20.7" fill="none" stroke="currentColor" stroke-width="1.1"/></svg>
</div>
</body>
</html>
